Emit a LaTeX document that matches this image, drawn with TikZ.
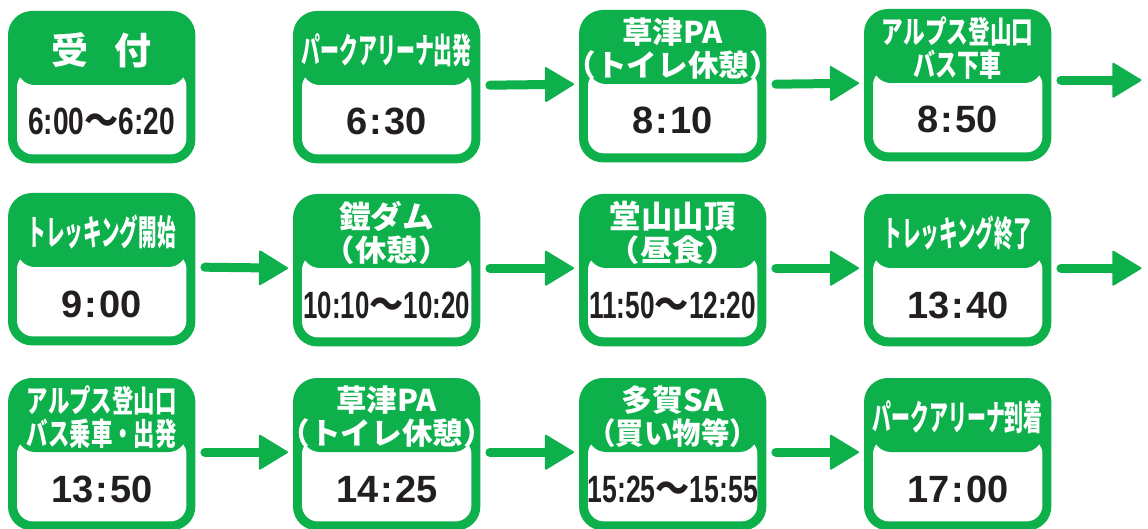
\documentclass[tikz,border=0pt]{standalone}
\usepackage{fontspec}
\usepackage{graphicx}
\usetikzlibrary{calc,arrows.meta}
\newfontfamily\jpfont{Noto Sans CJK JP}
\newfontfamily\timefont{Liberation Sans}
\definecolor{tgreen}{HTML}{0DB04B}
\definecolor{tink}{HTML}{231F20}
% one header line: size, x-scale, text
\newcommand{\hdl}[3]{\scalebox{#2}[1]{\fontsize{#1}{#1}\selectfont #3}}
% a time range: x-scale, from, to
\newcommand{\rng}[3]{\scalebox{#1}[1]{#2}{\jpfont\bfseries\scalebox{0.9}[1]{～}}\scalebox{#1}[1]{#3}}
% a single time, colon a bit apart
\newcommand{\tim}[2]{#1\hspace{2pt}:\hspace{2pt}#2}
% one stop of the schedule: name, x, y, header, time
\newcommand{\stopbox}[5]{%
  \node[minimum width=187pt, minimum height=152pt, inner sep=0pt, anchor=north west] (#1) at (#2,#3) {};
  \fill[color=tgreen, rounded corners=24pt] (#1.north west) rectangle (#1.south east);
  \fill[color=white, rounded corners=16pt] ($(#1.north west)+(9,60)$) rectangle ($(#1.south east)+(-9,-9)$);
  \fill[color=tgreen, rounded corners=18pt] ($(#1.north west)+(9,30)$) rectangle ($(#1.north east)+(-9,74)$);
  \node[hd] (#1h) at ($(#1.north)+(0,39)$) {#4};
  \node[tm] (#1t) at ($(#1.north)+(0,124)$) {#5};
}
\tikzset{
  hd/.style={text=white, inner sep=0pt, align=center, font={\jpfont\bfseries\fontsize{30}{33}\selectfont}},
  tm/.style={text=tink, inner sep=0pt, anchor=base, font={\timefont\bfseries\fontsize{38}{40}\selectfont}},
  flow/.style={line width=9pt, color=tgreen, line cap=round, -{Triangle[length=30pt, width=36pt, line width=2pt, round]}}
}

\begin{document}
\begin{tikzpicture}[x=1pt, y=-1pt]
	%%%%% START %%%%%
	\useasboundingbox (0,0) rectangle (1148,529);
	
	% row 1
	\stopbox{b1}{8}{11}{\hdl{37}{1}{受\hspace{0.7em}付}}{\rng{0.74}{6:00}{6:20}}
	\stopbox{b2}{293}{11}{\hdl{35}{0.54}{パークアリーナ出発}}{\tim{6}{30}}
	\stopbox{b3}{579}{10}{\hdl{30}{1.02}{草津PA}\\\hdl{30}{1.02}{（トイレ休憩）}}{\tim{8}{10}}
	\stopbox{b4}{864}{9}{\hdl{31}{0.7}{アルプス登山口}\\\hdl{31}{0.71}{バス下車}}{\tim{8}{50}}
	
	% row 2
	\stopbox{b5}{8}{193}{\hdl{35}{0.53}{トレッキング開始}}{\tim{9}{00}}
	\stopbox{b6}{293}{194}{\hdl{31}{1.02}{鎧ダム}\\\hdl{30}{1.05}{（休憩）}}{\rng{0.68}{10:10}{10:20}}
	\stopbox{b7}{579}{194}{\hdl{32}{0.98}{堂山山頂}\\\hdl{30}{1.08}{（昼食）}}{\rng{0.69}{11:50}{12:20}}
	\stopbox{b8}{864}{194}{\hdl{35}{0.53}{トレッキング終了}}{\tim{13}{40}}
	
	% row 3
	\stopbox{b9}{8}{378}{\hdl{31}{0.69}{アルプス登山口}\\\hdl{31}{0.69}{バス乗車・出発}}{\tim{13}{50}}
	\stopbox{b10}{293}{378}{\hdl{30}{1.02}{草津PA}\\\hdl{30}{1.02}{（トイレ休憩）}}{\tim{14}{25}}
	\stopbox{b11}{579}{378}{\hdl{30}{1.03}{多賀SA}\\\hdl{30}{0.95}{（買い物等）}}{\rng{0.7}{15:25}{15:55}}
	\stopbox{b12}{864}{378}{\hdl{35}{0.54}{パークアリーナ到着}}{\tim{17}{00}}
	
	% arrows
	\coordinate (out1) at ($(b4.east)+(90,-5)$);
	\coordinate (out2) at ($(b8.east)+(90,-2)$);
	\draw[flow] ([xshift=9.5pt,yshift=2pt]b2.east) -- ([xshift=-5pt,yshift=2pt]b3.west);
	\draw[flow] ([xshift=9.5pt,yshift=2pt]b3.east) -- ([xshift=-5pt,yshift=2pt]b4.west);
	\draw[flow] ([xshift=9.5pt,yshift=5pt]b4.east) -- (out1);
	\draw[flow] ([xshift=9.5pt,yshift=2pt]b5.east) -- ([xshift=-5pt,yshift=2pt]b6.west);
	\draw[flow] ([xshift=9.5pt,yshift=2pt]b6.east) -- ([xshift=-5pt,yshift=2pt]b7.west);
	\draw[flow] ([xshift=9.5pt,yshift=2pt]b7.east) -- ([xshift=-5pt,yshift=2pt]b8.west);
	\draw[flow] ([xshift=9.5pt,yshift=2pt]b8.east) -- (out2);
	\draw[flow] ([xshift=9.5pt,yshift=2pt]b9.east) -- ([xshift=-5pt,yshift=2pt]b10.west);
	\draw[flow] ([xshift=9.5pt,yshift=2pt]b10.east) -- ([xshift=-5pt,yshift=2pt]b11.west);
	\draw[flow] ([xshift=9.5pt,yshift=2pt]b11.east) -- ([xshift=-5pt,yshift=2pt]b12.west);
	
	%%%%% END %%%%%
\end{tikzpicture}
\end{document}
